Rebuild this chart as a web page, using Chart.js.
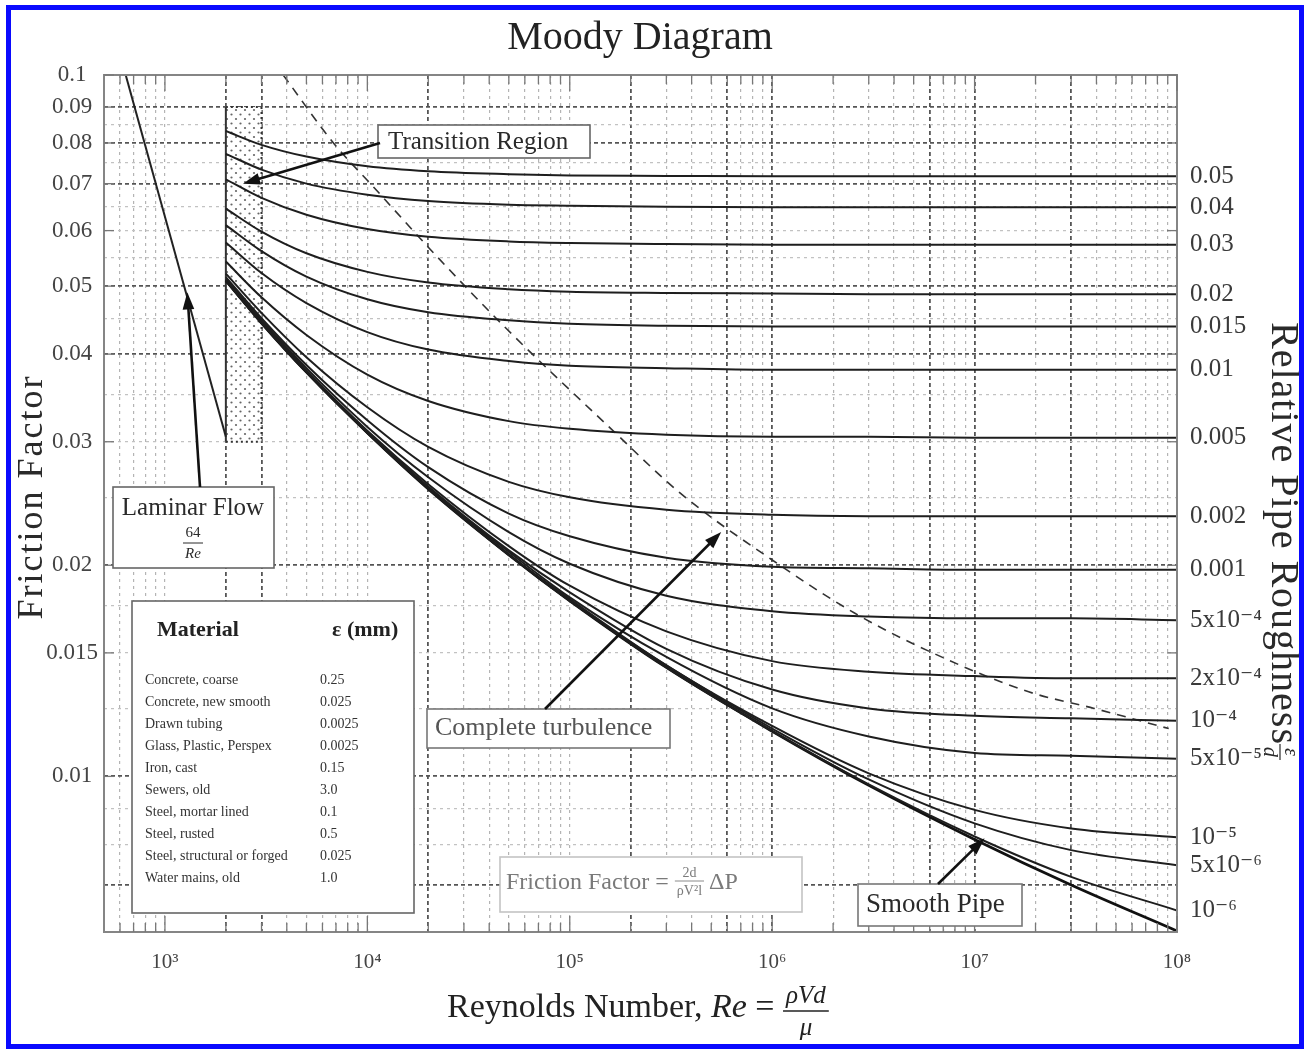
<!DOCTYPE html>
<html>
<head>
<meta charset="utf-8">
<title>Moody Diagram</title>
<script src="https://cdn.jsdelivr.net/npm/chart.js@4.4.1/dist/chart.umd.min.js"></script>
<style>
  html, body { margin: 0; padding: 0; background: #fff; }
  #wrap { position: relative; width: 1304px; height: 1049px; }
</style>
</head>
<body>
<div id="wrap"><canvas id="moody" width="1304" height="1049"></canvas></div>
<script>
const reValues = [2000, 3000, 5000, 1e4, 2e4, 5e4, 1e5, 3e5, 1e6, 3e6, 1e7, 3e7, 1e8];

// friction factor for each relative roughness
const f_05   = [0.0832, 0.0795, 0.0765, 0.0741, 0.0729, 0.0722, 0.0719, 0.0718, 0.0717, 0.0717, 0.0717, 0.0717, 0.0717];
const f_04   = [0.0772, 0.0733, 0.0700, 0.0675, 0.0661, 0.0653, 0.0651, 0.0649, 0.0648, 0.0648, 0.0648, 0.0648, 0.0648];
const f_03   = [0.0710, 0.0668, 0.0632, 0.0603, 0.0588, 0.0579, 0.0576, 0.0574, 0.0573, 0.0573, 0.0573, 0.0573, 0.0573];
const f_02   = [0.0645, 0.0598, 0.0557, 0.0524, 0.0506, 0.0495, 0.0491, 0.0489, 0.0488, 0.0487, 0.0487, 0.0487, 0.0487];
const f_015  = [0.0611, 0.0561, 0.0516, 0.0479, 0.0459, 0.0447, 0.0442, 0.0439, 0.0438, 0.0438, 0.0438, 0.0438, 0.0438];
const f_01   = [0.0577, 0.0522, 0.0473, 0.0430, 0.0406, 0.0391, 0.0385, 0.0382, 0.0380, 0.0380, 0.0380, 0.0380, 0.0380];
const f_005  = [0.0542, 0.0482, 0.0426, 0.0374, 0.0343, 0.0321, 0.0313, 0.0307, 0.0305, 0.0305, 0.0304, 0.0304, 0.0304];
const f_002  = [0.0521, 0.0458, 0.0396, 0.0336, 0.0295, 0.0263, 0.0250, 0.0240, 0.0236, 0.0235, 0.0235, 0.0235, 0.0235];
const f_001  = [0.0515, 0.0450, 0.0386, 0.0322, 0.0276, 0.0237, 0.0220, 0.0205, 0.0199, 0.0198, 0.0197, 0.0197, 0.0197];
const f_5e4  = [0.0512, 0.0447, 0.0382, 0.0315, 0.0267, 0.0223, 0.0201, 0.0181, 0.0172, 0.0169, 0.0168, 0.0168, 0.0167];
const f_2e4  = [0.0510, 0.0445, 0.0379, 0.0311, 0.0261, 0.0213, 0.0187, 0.0161, 0.0146, 0.0141, 0.0139, 0.0138, 0.0138];
const f_1e4  = [0.0510, 0.0444, 0.0378, 0.0310, 0.0259, 0.0210, 0.0183, 0.0152, 0.0133, 0.0125, 0.0122, 0.0121, 0.0120];
const f_5e5  = [0.0509, 0.0444, 0.0378, 0.0309, 0.0258, 0.0209, 0.0180, 0.0148, 0.0125, 0.0114, 0.0108, 0.0107, 0.0106];
const f_1e5  = [0.0509, 0.0444, 0.0377, 0.0309, 0.0258, 0.0207, 0.0179, 0.0144, 0.0118, 0.0101, 0.00896, 0.00843, 0.00819];
const f_5e6  = [0.0509, 0.0443, 0.0377, 0.0309, 0.0258, 0.0207, 0.0178, 0.0144, 0.0117, 0.00990, 0.00857, 0.00785, 0.00747];
const f_1e6  = [0.0509, 0.0443, 0.0377, 0.0309, 0.0257, 0.0207, 0.0178, 0.0143, 0.0116, 0.00974, 0.00821, 0.00719, 0.00644];
const f_smooth = [0.0509, 0.0443, 0.0377, 0.0309, 0.0257, 0.0207, 0.0178, 0.0143, 0.0116, 0.00971, 0.00813, 0.00700, 0.00602];

const roughLabels = ['0.05', '0.04', '0.03', '0.02', '0.015', '0.01', '0.005', '0.002', '0.001',
                     '5x10⁻⁴', '2x10⁻⁴', '10⁻⁴', '5x10⁻⁵', '10⁻⁵', '5x10⁻⁶', '10⁻⁶'];
const roughCurves = [f_05, f_04, f_03, f_02, f_015, f_01, f_005, f_002, f_001,
                     f_5e4, f_2e4, f_1e4, f_5e5, f_1e5, f_5e6, f_1e6];

// laminar line 64/Re
const laminarRe = [640, 2000];
const laminarF = [0.1, 0.0305];

// dashed boundary of complete turbulence
const turbRe = [3840, 6800, 10700, 21200, 49000, 160000, 354000, 988000, 2.55e6, 5.9e6, 1.85e7, 3.9e7, 9.1e7];
const turbF  = [0.1, 0.080, 0.0693, 0.0558, 0.0434, 0.0313, 0.0253, 0.0204, 0.0171, 0.0151, 0.0132, 0.0125, 0.0117];

// transition region block
const transRe = [2000, 3000];
const transF = [0.03, 0.09];

// ticks
const xMajor = [1e3, 1e4, 1e5, 1e6, 1e7, 1e8];
const xMajorLabels = ['10³', '10⁴', '10⁵', '10⁶', '10⁷', '10⁸'];
const yLabelled = [0.01, 0.015, 0.02, 0.03, 0.04, 0.05, 0.06, 0.07, 0.08, 0.09, 0.1];
const yGridExtra = [0.007, 0.008, 0.009, 0.0125, 0.0175, 0.025, 0.035, 0.045, 0.055, 0.065, 0.075, 0.085];

// material table
const materials = ['Concrete, coarse', 'Concrete, new smooth', 'Drawn tubing', 'Glass, Plastic, Perspex',
                   'Iron, cast', 'Sewers, old', 'Steel, mortar lined', 'Steel, rusted',
                   'Steel, structural or forged', 'Water mains, old'];
const materialEps = ['0.25', '0.025', '0.0025', '0.0025', '0.15', '3.0', '0.1', '0.5', '0.025', '1.0'];

const SERIF = "'Liberation Serif', 'DejaVu Serif', serif";
const darkX = [2000, 3000, 20000, 200000, 600000, 1e6, 6e6, 1e7, 3e7];
const darkY = [0.007, 0.01, 0.02, 0.04, 0.05, 0.07, 0.08, 0.09];

const xTicks = [];
for (let n = 2; n <= 7; n++) {
    for (let k = 1; k <= 9; k++) {
        const v = k * Math.pow(10, n);
        if (v > 500 && v <= 1e8) xTicks.push(v);
    }
}
xTicks.push(1e8);
const yTicks = yLabelled.concat(yGridExtra).sort((a, b) => a - b);

const rightMap = new Map();
roughCurves.forEach((c, i) => rightMap.set(c[c.length - 1], roughLabels[i]));
const rightTicks = Array.from(rightMap.keys()).sort((a, b) => a - b);

function pts(xs, ys) {
    return xs.map((x, i) => ({x: x, y: ys[i]}));
}

let datasets = roughCurves.map(c => ({
    data: pts(reValues, c),
    borderColor: '#1e1e1e',
    borderWidth: 2,
    pointRadius: 0,
    cubicInterpolationMode: 'monotone'
}));
datasets.push({data: pts(reValues, f_smooth), borderColor: '#111', borderWidth: 2.8, pointRadius: 0, cubicInterpolationMode: 'monotone'});
datasets.push({data: pts(laminarRe, laminarF), borderColor: '#222', borderWidth: 2, pointRadius: 0});
datasets.push({data: pts(turbRe, turbF), borderColor: '#333', borderWidth: 1.6, borderDash: [9, 7], pointRadius: 0, cubicInterpolationMode: 'monotone'});

function dotTile() {
    const t = document.createElement('canvas');
    t.width = 9; t.height = 9;
    const g = t.getContext('2d');
    g.fillStyle = '#666';
    [[2, 2], [6.5, 6.5]].forEach(p => { g.beginPath(); g.arc(p[0], p[1], 1.1, 0, Math.PI * 2); g.fill(); });
    return t;
}

function text(c, s, x, y, font, color, align) {
    c.font = font;
    c.fillStyle = color || '#222';
    c.textAlign = align || 'left';
    c.textBaseline = 'middle';
    c.fillText(s, x, y);
}

function line(c, x1, y1, x2, y2) {
    c.beginPath(); c.moveTo(x1, y1); c.lineTo(x2, y2); c.stroke();
}

function arrow(c, x1, y1, x2, y2) {
    const a = Math.atan2(y2 - y1, x2 - x1), h = 18;
    c.save();
    c.setLineDash([]);
    c.strokeStyle = '#111'; c.fillStyle = '#111'; c.lineWidth = 2.6;
    line(c, x1, y1, x2 - Math.cos(a) * h * 0.7, y2 - Math.sin(a) * h * 0.7);
    c.beginPath();
    c.moveTo(x2, y2);
    c.lineTo(x2 - h * Math.cos(a - 0.33), y2 - h * Math.sin(a - 0.33));
    c.lineTo(x2 - h * Math.cos(a + 0.33), y2 - h * Math.sin(a + 0.33));
    c.closePath(); c.fill();
    c.restore();
}

function box(c, x, y, w, h, col) {
    c.save();
    c.fillStyle = '#fff'; c.fillRect(x, y, w, h);
    c.strokeStyle = col || '#666'; c.lineWidth = 1.6; c.setLineDash([]);
    c.strokeRect(x, y, w, h);
    c.restore();
}

const moodyDecor = {
    id: 'moodyDecor',
    beforeDraw(chart) {
        const c = chart.ctx;
        c.save(); c.fillStyle = '#fff'; c.fillRect(0, 0, chart.width, chart.height); c.restore();
    },
    beforeDatasetsDraw(chart) {
        const c = chart.ctx, sx = chart.scales.x, sy = chart.scales.y;
        const x1 = sx.getPixelForValue(transRe[0]), x2 = sx.getPixelForValue(transRe[1]);
        const y1 = sy.getPixelForValue(transF[1]), y2 = sy.getPixelForValue(transF[0]);
        c.save();
        c.fillStyle = '#fff'; c.fillRect(x1, y1, x2 - x1, y2 - y1);
        c.fillStyle = c.createPattern(dotTile(), 'repeat'); c.fillRect(x1, y1, x2 - x1, y2 - y1);
        c.strokeStyle = '#333'; c.lineWidth = 2;
        c.setLineDash([2, 3]);
        line(c, x1, y1, x2, y1); line(c, x2, y1, x2, y2); line(c, x1, y2, x2, y2);
        c.setLineDash([]);
        line(c, x1, y1, x1, y2);
        c.restore();
    },
    afterDraw(chart) {
        const c = chart.ctx, ca = chart.chartArea, sx = chart.scales.x, sy = chart.scales.y;
        c.save();

        // plot frame and inner tick marks
        c.strokeStyle = '#858585'; c.lineWidth = 2;
        c.strokeRect(ca.left, ca.top, ca.right - ca.left, ca.bottom - ca.top);
        c.lineWidth = 1.3; c.strokeStyle = '#777';
        xTicks.forEach(v => {
            const X = sx.getPixelForValue(v), len = xMajor.includes(v) ? 16 : 9;
            line(c, X, ca.bottom, X, ca.bottom - len);
            line(c, X, ca.top, X, ca.top + len);
        });
        yLabelled.forEach(v => {
            const Y = sy.getPixelForValue(v);
            line(c, ca.left, Y, ca.left + 10, Y);
            line(c, ca.right, Y, ca.right - 10, Y);
        });

        // title and axis titles
        text(c, 'Moody Diagram', 640, 38, `40px ${SERIF}`, '#222', 'center');

        c.save();
        c.translate(33, 497); c.rotate(-Math.PI / 2);
        c.letterSpacing = '2px';
        text(c, 'Friction Factor', 0, 0, `36px ${SERIF}`, '#2a2a2a', 'center');
        c.restore();

        c.save();
        c.translate(1282, 322); c.rotate(Math.PI / 2);
        c.letterSpacing = '1px';
        text(c, 'Relative Pipe Roughness', 0, 0, `40px ${SERIF}`, '#2a2a2a', 'left');
        c.letterSpacing = '0px';
        c.font = `40px ${SERIF}`;
        const rw = c.measureText('Relative Pipe Roughness').width + 30;
        text(c, 'ε', rw, -8, `italic 20px ${SERIF}`, '#2a2a2a', 'center');
        c.strokeStyle = '#2a2a2a'; c.lineWidth = 1.2;
        line(c, rw - 8, 2, rw + 8, 2);
        text(c, 'd', rw, 13, `italic 20px ${SERIF}`, '#2a2a2a', 'center');
        c.restore();

        let xx = 447;
        const yb = 1008;
        text(c, 'Reynolds Number, ', xx, yb, `34px ${SERIF}`, '#222');
        xx += c.measureText('Reynolds Number, ').width;
        text(c, 'Re', xx, yb, `italic 34px ${SERIF}`, '#222');
        xx += c.measureText('Re').width;
        text(c, ' = ', xx, yb, `34px ${SERIF}`, '#222');
        xx += c.measureText(' = ').width;
        c.font = `italic 25px ${SERIF}`;
        const fw = c.measureText('ρVd').width + 6;
        text(c, 'ρVd', xx + fw / 2, yb - 12, `italic 25px ${SERIF}`, '#222', 'center');
        c.strokeStyle = '#222'; c.lineWidth = 1.4;
        line(c, xx, yb + 3, xx + fw, yb + 3);
        text(c, 'μ', xx + fw / 2, yb + 20, `italic 25px ${SERIF}`, '#222', 'center');

        // transition region label
        box(c, 378, 125, 212, 33);
        text(c, 'Transition Region', 388, 142, `25px ${SERIF}`, '#2a2a2a');
        arrow(c, 380, 143, sx.getPixelForValue(2430), sy.getPixelForValue(0.07));

        // laminar flow label
        box(c, 113, 487, 161, 81);
        text(c, 'Laminar Flow', 193, 508, `25px ${SERIF}`, '#2a2a2a', 'center');
        text(c, '64', 193, 533, `15px ${SERIF}`, '#2a2a2a', 'center');
        c.strokeStyle = '#2a2a2a'; c.lineWidth = 1;
        line(c, 183, 543, 203, 543);
        text(c, 'Re', 193, 554, `italic 15px ${SERIF}`, '#2a2a2a', 'center');
        arrow(c, 200, 487, sx.getPixelForValue(1290), sy.getPixelForValue(0.049));

        // material table
        box(c, 132, 601, 282, 312);
        text(c, 'Material', 157, 630, `bold 22px ${SERIF}`, '#222');
        text(c, 'ε (mm)', 332, 630, `bold 22px ${SERIF}`, '#222');
        materials.forEach((m, i) => {
            text(c, m, 145, 680 + 22 * i, `14px ${SERIF}`, '#333');
            text(c, materialEps[i], 320, 680 + 22 * i, `14px ${SERIF}`, '#333');
        });

        // complete turbulence label
        box(c, 427, 709, 243, 39, '#777');
        text(c, 'Complete turbulence', 435, 728, `26px ${SERIF}`, '#555');
        arrow(c, 545, 709, sx.getPixelForValue(5.6e5), sy.getPixelForValue(0.0223));

        // friction factor definition
        box(c, 500, 857, 302, 55, '#c4c4c4');
        let fx = 506;
        text(c, 'Friction Factor = ', fx, 883, `24px ${SERIF}`, '#7a7a7a');
        fx += c.measureText('Friction Factor = ').width;
        c.font = `14px ${SERIF}`;
        const dw = c.measureText('ρV²l').width + 4;
        text(c, '2d', fx + dw / 2, 873, `14px ${SERIF}`, '#7a7a7a', 'center');
        c.strokeStyle = '#8a8a8a'; c.lineWidth = 1;
        line(c, fx, 881, fx + dw, 881);
        text(c, 'ρV²l', fx + dw / 2, 891, `14px ${SERIF}`, '#7a7a7a', 'center');
        text(c, 'ΔP', fx + dw + 5, 883, `24px ${SERIF}`, '#7a7a7a');

        // smooth pipe label
        box(c, 858, 884, 164, 42, '#777');
        text(c, 'Smooth Pipe', 866, 905, `27px ${SERIF}`, '#2a2a2a');
        arrow(c, 938, 884, sx.getPixelForValue(1.12e7), sy.getPixelForValue(0.00816));

        // blue frame
        c.strokeStyle = '#0a0aff'; c.lineWidth = 5; c.setLineDash([]);
        c.strokeRect(8.5, 7.5, 1293, 1039);
        c.restore();
    }
};

new Chart(document.getElementById('moody'), {
    type: 'line',
    data: {datasets: datasets},
    plugins: [moodyDecor],
    options: {
        responsive: false,
        animation: false,
        devicePixelRatio: 1,
        parsing: true,
        layout: {padding: {top: 75, left: 10, right: 10, bottom: 67}},
        plugins: {legend: {display: false}, tooltip: {enabled: false}, title: {display: false}},
        scales: {
            x: {
                type: 'logarithmic',
                position: 'bottom',
                min: 500,
                max: 1e8,
                bounds: 'data',
                afterBuildTicks: s => { s.ticks = xTicks.map(v => ({value: v})); },
                afterFit: s => { s.height = 50; },
                border: {display: false, dash: ctx => darkX.includes(ctx.tick && ctx.tick.value) ? [4, 3] : [3, 4]},
                grid: {
                    drawTicks: false,
                    lineWidth: ctx => darkX.includes(ctx.tick && ctx.tick.value) ? 1.8 : 1.2,
                    color: ctx => darkX.includes(ctx.tick && ctx.tick.value) ? '#555' : '#b4b4b4'
                },
                ticks: {
                    autoSkip: false,
                    maxRotation: 0,
                    padding: 18,
                    color: '#444',
                    font: {family: SERIF, size: 21},
                    callback: v => { const i = xMajor.indexOf(v); return i >= 0 ? xMajorLabels[i] : ''; }
                }
            },
            y: {
                type: 'logarithmic',
                position: 'left',
                min: 0.006,
                max: 0.1,
                bounds: 'data',
                afterBuildTicks: s => { s.ticks = yTicks.map(v => ({value: v})); },
                afterFit: s => { s.width = 94; },
                border: {display: false, dash: ctx => darkY.includes(ctx.tick && ctx.tick.value) ? [4, 3] : [3, 4]},
                grid: {
                    drawTicks: false,
                    lineWidth: ctx => darkY.includes(ctx.tick && ctx.tick.value) ? 1.8 : 1.2,
                    color: ctx => darkY.includes(ctx.tick && ctx.tick.value) ? '#555' : '#c2c2c2'
                },
                ticks: {
                    autoSkip: false,
                    padding: 6,
                    crossAlign: 'center',
                    color: '#444',
                    font: {family: SERIF, size: 23},
                    callback: v => yLabelled.includes(v) ? String(v) : ''
                }
            },
            y2: {
                type: 'logarithmic',
                position: 'right',
                min: 0.006,
                max: 0.1,
                bounds: 'data',
                afterBuildTicks: s => { s.ticks = rightTicks.map(v => ({value: v})); },
                afterFit: s => { s.width = 117; },
                border: {display: false},
                grid: {display: false, drawTicks: false},
                ticks: {
                    autoSkip: false,
                    padding: 13,
                    color: '#3a3a3a',
                    font: {family: SERIF, size: 25},
                    callback: v => rightMap.get(v) || ''
                }
            }
        }
    }
});
</script>
</body>
</html>
